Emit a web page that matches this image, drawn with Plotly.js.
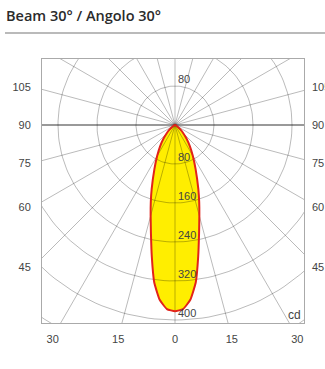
<!DOCTYPE html>
<html>
<head>
<meta charset="utf-8">
<script src="https://cdn.plot.ly/plotly-3.0.1.min.js"></script>
<style>
html,body{margin:0;padding:0;background:#fff;}
#chart{width:325px;height:369px;}
</style>
</head>
<body>
<div id="chart"></div>
<script>
// ---- data ----
const titleText = "Beam 30° / Angolo 30°";
const unitLabel = "cd";
// gamma angles (deg from nadir) and luminous intensity (cd)
const gammaAngles = [-90,-80,-70,-60,-55,-50,-45,-40,-35,-30,-25,-20,-17.5,-15,-12.5,-10,-7.5,-5,-2.5,0,2.5,5,7.5,10,12.5,15,17.5,20,25,30,35,40,45,50,55,60,70,80,90];
const intensity   = [0,0,1,4,8,15,24,37,53,73,100,140,165,193,228,274,326,360,378,382,378,360,326,274,228,193,165,140,100,73,53,37,24,15,8,4,1,0,0];
// grid and tick labels
const ringValues = [80,160,240,320,400,480];
const ringLabelsBelow = ["80","160","240","320","400"];
const ringLabelsAbove = ["80"];
const sideAngles = [105,90,75,60,45];
const sideLabels = ["105","90","75","60","45"];
const bottomAngles = [-30,-15,0,15,30];
const bottomLabels = ["30","15","0","15","30"];

// ---- geometry (layout) ----
const W = 325, H = 369;
const L = 42, R = 304, T = 59, B = 323;   // plot box in px
const cx = 175, cy = 125;                  // pole in px
const s = 0.4875;                          // px per cd
const xr = [(L - cx) / s, (R - cx) / s];
const yr = [(cy - B) / s, (cy - T) / s];
const spread = 1.07;
const rad = d => d * Math.PI / 180;

const gridColor = 'rgba(0,0,0,0.27)';
const traces = [];
const curveX = gammaAngles.map((a, i) => intensity[i] * Math.sin(rad(a)));
const curveY = gammaAngles.map((a, i) => -intensity[i] * Math.cos(rad(a)));

// photometric curve (filled)
traces.push({
  type: 'scatter', mode: 'lines', x: curveX, y: curveY,
  fill: 'toself', fillcolor: '#ffee00',
  line: {color: 'rgba(0,0,0,0)', width: 0, shape: 'spline', smoothing: 0.4},
  hoverinfo: 'skip', showlegend: false
});

// rings
ringValues.forEach(r => {
  const xs = [], ys = [];
  for (let d = 0; d <= 360; d += 2) { xs.push(r * Math.cos(rad(d))); ys.push(r * Math.sin(rad(d))); }
  traces.push({type: 'scatter', mode: 'lines', x: xs, y: ys,
    line: {color: gridColor, width: 1}, hoverinfo: 'skip', showlegend: false});
});
// spokes every 15 deg
for (let d = 0; d < 180; d += 15) {
  if (d === 90) continue;
  const big = 600;
  traces.push({type: 'scatter', mode: 'lines',
    x: [-big * Math.sin(rad(d)), big * Math.sin(rad(d))],
    y: [big * Math.cos(rad(d)), -big * Math.cos(rad(d))],
    line: {color: gridColor, width: 1}, hoverinfo: 'skip', showlegend: false});
}
// horizontal 90 deg line
traces.push({type: 'scatter', mode: 'lines', x: [-600, 600], y: [0, 0],
  line: {color: 'rgba(0,0,0,0.4)', width: 2}, hoverinfo: 'skip', showlegend: false});

// curve outline on top
traces.push({
  type: 'scatter', mode: 'lines', x: curveX, y: curveY,
  line: {color: '#e2231a', width: 2, shape: 'spline', smoothing: 0.4},
  hoverinfo: 'skip', showlegend: false
});

// tick positions from angles on the box border
const bottomDepth = -yr[0];
const xTicks = bottomAngles.map(a => Math.tan(rad(Math.abs(a))) * bottomDepth * spread * Math.sign(a));
const leftReach = -xr[0];
const yTicks = sideAngles.map(a => a === 90 ? 0 : -leftReach / Math.tan(rad(a)) * spread);

const labelFont = {family: 'Liberation Sans, Arial, sans-serif', size: 11, color: '#444'};

const annotations = [];
ringLabelsBelow.forEach((t, i) => annotations.push({
  x: 0, y: -ringValues[i], xref: 'x', yref: 'y', text: t, showarrow: false,
  xanchor: 'left', yanchor: 'bottom', xshift: 1, yshift: -1, font: labelFont
}));
ringLabelsAbove.forEach((t, i) => annotations.push({
  x: 0, y: ringValues[i], xref: 'x', yref: 'y', text: t, showarrow: false,
  xanchor: 'left', yanchor: 'bottom', xshift: 1, yshift: -1, font: labelFont
}));
annotations.push({x: (R - 1 - L) / (R - L), y: (B - 315) / (B - T), xref: 'paper', yref: 'paper',
  text: unitLabel, showarrow: false, xanchor: 'right', yanchor: 'middle', font: {...labelFont, size: 12}});

const layout = {
  width: W, height: H,
  margin: {l: L, r: W - R, t: T, b: H - B, pad: 0},
  paper_bgcolor: '#fff', plot_bgcolor: '#fff',
  showlegend: false,
  title: {text: titleText, xref: 'container', yref: 'container',
    x: 6 / W, xanchor: 'left', y: 1 - 16 / H, yanchor: 'middle',
    font: {family: 'Open Sans, sans-serif', size: 14.5, weight: 600, color: '#2b2b2b'}},
  xaxis: {range: xr, showgrid: false, zeroline: false, showline: true, mirror: true,
    linecolor: '#aaa', linewidth: 1, ticks: '', tickvals: xTicks, ticktext: bottomLabels,
    tickfont: labelFont, ticklabelstandoff: 6, fixedrange: true},
  yaxis: {range: yr, showgrid: false, zeroline: false, showline: true, mirror: true,
    linecolor: '#aaa', linewidth: 1, ticks: '', tickvals: yTicks, ticktext: sideLabels,
    tickfont: labelFont, ticklabelstandoff: 8, fixedrange: true},
  yaxis2: {range: yr, overlaying: 'y', side: 'right', showgrid: false, zeroline: false,
    showline: false, ticks: '', tickvals: yTicks, ticktext: sideLabels,
    tickfont: labelFont, ticklabelstandoff: 7, fixedrange: true},
  shapes: [{type: 'line', xref: 'paper', yref: 'paper',
    x0: (5 - L) / (R - L), x1: (W - L) / (R - L),
    y0: (B - 33) / (B - T), y1: (B - 33) / (B - T),
    line: {color: '#777', width: 1.2}}],
  annotations: annotations
};
// dummy trace to activate yaxis2
traces.push({type: 'scatter', mode: 'markers', x: [0], y: [0], yaxis: 'y2',
  marker: {opacity: 0}, hoverinfo: 'skip', showlegend: false});

Plotly.newPlot('chart', traces, layout, {staticPlot: true, displayModeBar: false});
</script>
</body>
</html>
